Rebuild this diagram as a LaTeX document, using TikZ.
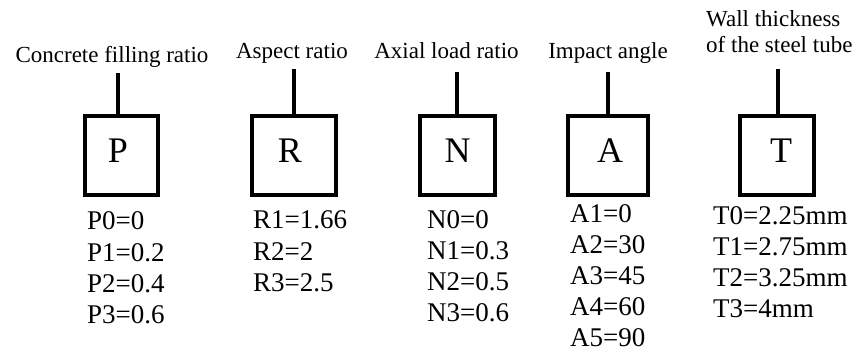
\documentclass[tikz,border=0pt]{standalone}
\usepackage{fontspec}
\setmainfont{Liberation Serif}
\begin{document}
\begin{tikzpicture}[x=1pt,y=-1pt,
  lbl/.style={font=\fontsize{23}{26}\selectfont, anchor=base, inner sep=0pt},
  lblw/.style={font=\fontsize{23}{26}\selectfont, anchor=base west, inner sep=0pt},
  box/.style={draw, line width=3.5pt, minimum width=#1, minimum height=79pt, inner sep=0pt,
              font=\fontsize{36}{40}\selectfont, text height=24pt, text depth=10pt},
  val/.style={font=\fontsize{27}{31}\selectfont, anchor=base west, inner sep=0pt},
  conn/.style={line width=3.5pt}]
\path[use as bounding box] (0,0) rectangle (860,355);

% headings
\node[lbl] (lP) at (112,63) {Concrete filling ratio};
\node[lbl] (lR) at (292,59) {Aspect ratio};
\node[lbl] (lN) at (446.5,59) {Axial load ratio};
\node[lbl] (lA) at (608,59) {Impact angle};
\node[lblw] (lT1) at (706,27) {Wall thickness};
\node[lblw] (lT2) at (706,53) {of the steel tube};

% boxes
\node[box=73pt] (P) at (121.5,155.5) {\kern-7pt P};
\node[box=84pt] (R) at (294,155.5) {\kern-8pt R};
\node[box=75pt] (N) at (457.5,155.5) {N};
\node[box=80pt] (A) at (608,155.5) {A\kern-4pt};
\node[box=74pt] (T) at (777,155.5) {T\kern-8pt};

% connectors
\coordinate (cP) at (118,73);
\coordinate (cR) at (294,69);
\coordinate (cN) at (457,72);
\coordinate (cA) at (608,72);
\coordinate (cT) at (778,69);
\draw[conn] (cP) -- (cP |- P.north);
\draw[conn] (cR) -- (cR |- R.north);
\draw[conn] (cN) -- (cN |- N.north);
\draw[conn] (cA) -- (cA |- A.north);
\draw[conn] (cT) -- (cT |- T.north);

% values
\foreach \t [count=\i] in {P0=0,P1=0.2,P2=0.4,P3=0.6}
  \node[val] (vP\i) at (87,{230+31.3*(\i-1)}) {\t};
\foreach \t [count=\i] in {R1=1.66,R2=2,R3=2.5}
  \node[val] (vR\i) at (253,{229+31.3*(\i-1)}) {\t};
\foreach \t [count=\i] in {N0=0,N1=0.3,N2=0.5,N3=0.6}
  \node[val] (vN\i) at (427,{229+31*(\i-1)}) {\t};
\foreach \t [count=\i] in {A1=0,A2=30,A3=45,A4=60,A5=90}
  \node[val] (vA\i) at (570,{223+31*(\i-1)}) {\t};
\foreach \t [count=\i] in {T0=2.25mm,T1=2.75mm,T2=3.25mm,T3=4mm}
  \node[val] (vT\i) at (713,{225+31*(\i-1)}) {\t};
\end{tikzpicture}
\end{document}
